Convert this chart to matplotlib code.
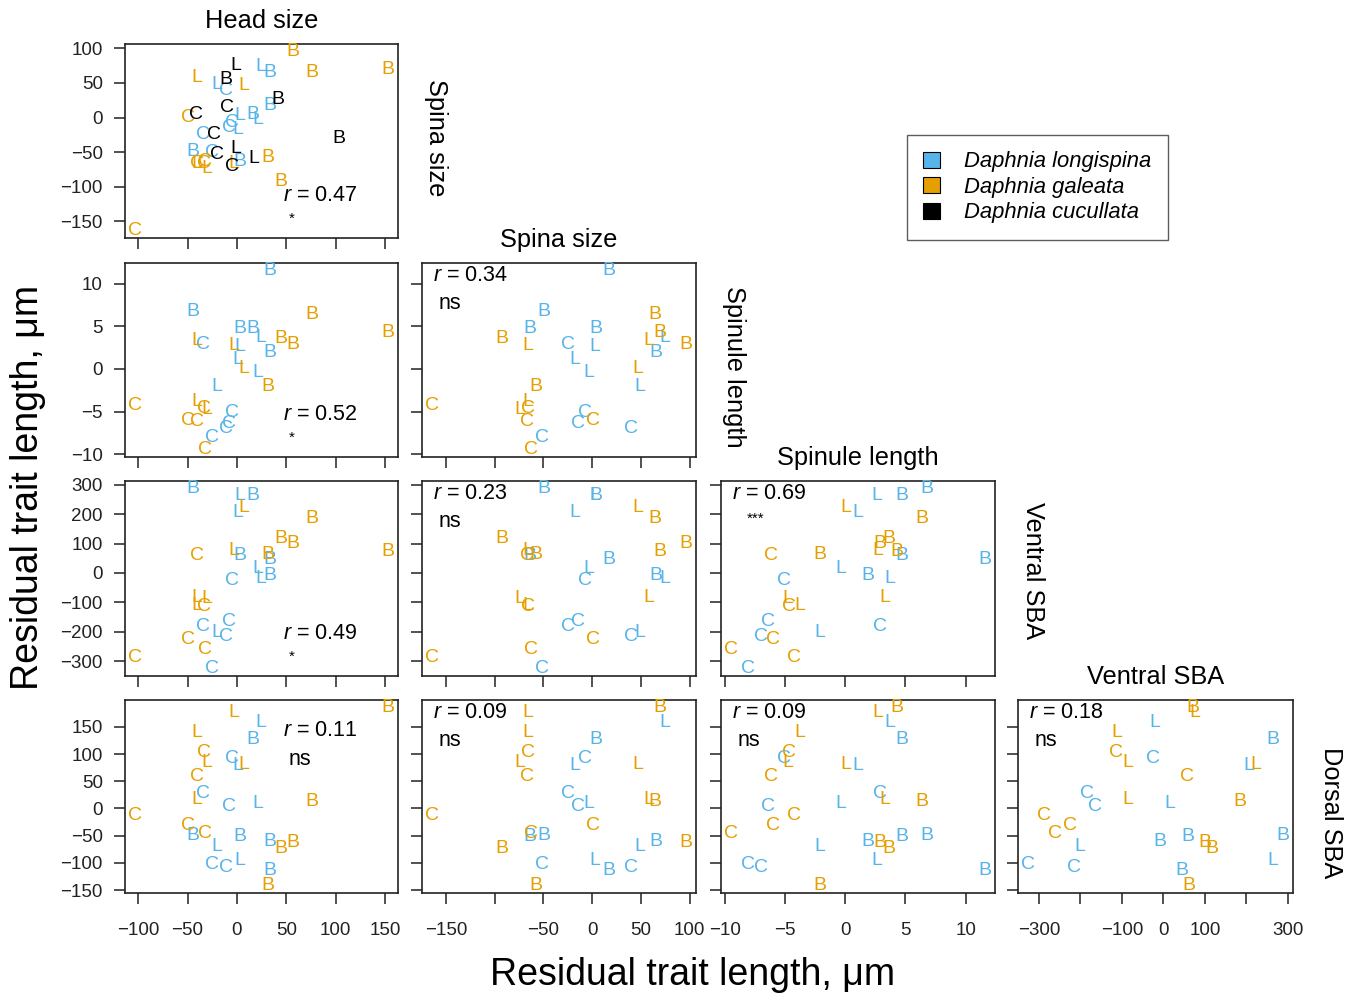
import numpy as np
import matplotlib
matplotlib.use('Agg')
import matplotlib.pyplot as plt
from matplotlib.patches import Patch

plt.rcParams['font.family'] = ['Liberation Sans', 'DejaVu Sans']
plt.rcParams['mathtext.fontset'] = 'custom'
plt.rcParams['mathtext.it'] = 'Liberation Sans:italic'
plt.rcParams['mathtext.rm'] = 'Liberation Sans'

# trait names (diagonal titles)
traits = ["Head size", "Spina size", "Spinule length", "Ventral SBA", "Dorsal SBA"]

species_names = ["Daphnia longispina", "Daphnia galeata", "Daphnia cucullata"]
species_colors = ["#56B4E9", "#E69F00", "#000000"]

# one entry per individual: 15 longispina, 15 galeata, 11 cucullata
species = [0] * 15 + [1] * 15 + [2] * 11
lake = ["B", "B", "B", "B", "L", "C", "L", "B", "L", "L", "L", "C", "C", "C", "C",
        "B", "B", "B", "B", "B", "L", "L", "L", "L", "C", "C", "C", "C", "C", "L",
        "L", "B", "C", "B", "C", "C", "L", "C", "L", "C", "B"]
head = [33, -44.5, 2.7, 16, 23.8, -34, 3.4, 33.4, 0.7, 20.7, -20.8, -5, -8.2, -11.3, -25,
        76, 152.7, 44.5, 57, 31, -40.5, -3.5, 7, -41, -103, -33, -50, -40, -32, -30,
        -0.7, -10.8, -10, 41, -41, -23.5, -0.7, -20, 16.7, -5, 103]
spina = [17, -49.5, -63.5, 4.2, 74.5, -24.5, 3.2, 65, -18, -3.5, 48.5, -7.8, -15, 39.5, -51,
         64.5, 69, -92.5, 96, -58, 58, -66, 47, -66, -164, -66, 0.5, -66.5, -63, -74,
         76, 55, 14, 26, 5, -24, -45, -54, -59, -71, -31]
spinule = [11.6, 6.8, 4.7, 4.7, 3.7, 2.85, 2.6, 1.9, 1.07, -0.4, -2.1, -5.1, -6.4, -7.0, -8.1,
           6.4, 4.3, 3.6, 2.9, -2.1, 3.3, 2.7, 0.05, -3.8, -4.3, -4.7, -6.0, -6.2, -9.5, -4.8] + [np.nan] * 11
ventral = [44, 288, 59, 264, -20, -183, 263, -8, 207, 15, -201, -26, -166, -215, -326,
           184, 72, 117, 99, 62, -85, 75, 222, -112, -289, -115, -225, 58, -262, -86] + [np.nan] * 11
dorsal = [-113, -50, -52, 127, 158, 27, -96, -60, 79, 9, -69, 91, 4, -108, -102,
          13, 186, -74, -63, -142, 17, 176, 80, 139, -13, 103, -32, 58, -45, 84] + [np.nan] * 11

# correlation labels per panel (row, col)
r_text = {(0, 0): ("0.47", "*"), (1, 0): ("0.52", "*"), (2, 0): ("0.49", "*"),
          (3, 0): ("0.11", "ns"), (1, 1): ("0.34", "ns"), (2, 1): ("0.23", "ns"),
          (3, 1): ("0.09", "ns"), (2, 2): ("0.69", "***"), (3, 2): ("0.09", "ns"),
          (3, 3): ("0.18", "ns")}

# axis ticks: rows use traits 1..4 on y, columns use traits 0..3 on x
y_ticks = [[-150, -100, -50, 0, 50, 100], [-10, -5, 0, 5, 10],
           [-300, -200, -100, 0, 100, 200, 300], [-150, -100, -50, 0, 50, 100, 150]]
x_ticks = [[-100, -50, 0, 50, 100, 150], [-150, -100, -50, 0, 50, 100],
           [-10, -5, 0, 5, 10], [-300, -200, -100, 0, 100, 200, 300]]
x_ticklabels = [["-100", "-50", "0", "50", "100", "150"],
                ["-150", "", "-50", "0", "50", "100"],
                ["-10", "-5", "0", "5", "10"],
                ["-300", "", "-100", "0", "100", "", "300"]]

values = [np.array(head, float), np.array(spina, float), np.array(spinule, float),
          np.array(ventral, float), np.array(dorsal, float)]
species = np.array(species)


def limits(v):
    lo, hi = np.nanmin(v), np.nanmax(v)
    pad = 0.04 * (hi - lo)
    return lo - pad, hi + pad


def minus(s):
    return s.replace("-", "\u2212")


W, H = 1352, 997
fig = plt.figure(figsize=(W / 100, H / 100), dpi=100)

col_left = [125, 422, 721, 1018]
col_right = [398, 696, 995, 1293]
row_top = [44, 263, 481, 700]
row_bottom = [238, 457, 676, 893]
side_label_y = [138, 367, 571, 813]

for row in range(4):
    for col in range(row + 1):
        l, r = col_left[col], col_right[col]
        t, b = row_top[row], row_bottom[row]
        ax = fig.add_axes([l / W, 1 - b / H, (r - l) / W, (b - t) / H])
        xv = values[col]
        yv = values[row + 1]
        for i in range(len(lake)):
            if np.isnan(xv[i]) or np.isnan(yv[i]):
                continue
            ax.text(xv[i], yv[i], lake[i], color=species_colors[species[i]],
                    ha='center', va='center', fontsize=14)
        ax.set_xlim(*limits(xv))
        ax.set_ylim(*limits(yv))
        ax.set_xticks(x_ticks[col])
        ax.set_yticks(y_ticks[row])
        if row == 3:
            ax.set_xticklabels([minus(s) for s in x_ticklabels[col]])
        else:
            ax.set_xticklabels([])
        if col == 0:
            ax.set_yticklabels([minus(str(v)) for v in y_ticks[row]])
        else:
            ax.set_yticklabels([])
        ax.tick_params(direction='out', length=8, width=1.1, labelsize=13.5,
                       colors='#222222')
        ax.tick_params(axis='x', pad=13)
        ax.tick_params(axis='y', pad=8)
        for s in ax.spines.values():
            s.set_linewidth(1.2)
            s.set_color('#222222')

        rv, sig = r_text[(row, col)]
        if col == 0 and row < 3:
            ax.text(0.58, 0.22, "$r$ = " + rv, transform=ax.transAxes,
                    ha='left', va='center', fontsize=15.5)
            ax.text(0.612, 0.1, sig, transform=ax.transAxes,
                    ha='center', va='center', fontsize=11)
        elif col == 0:
            ax.text(0.58, 0.84, "$r$ = " + rv, transform=ax.transAxes,
                    ha='left', va='center', fontsize=15.5)
            ax.text(0.64, 0.69, sig, transform=ax.transAxes,
                    ha='center', va='center', fontsize=15.5)
        else:
            ax.text(0.04, 0.935, "$r$ = " + rv, transform=ax.transAxes,
                    ha='left', va='center', fontsize=15.5)
            if sig == "***":
                ax.text(0.125, 0.805, sig, transform=ax.transAxes,
                        ha='center', va='center', fontsize=11)
            else:
                ax.text(0.06, 0.79, sig, transform=ax.transAxes,
                        ha='left', va='center', fontsize=15.5)

        if row == col:
            fig.text((l + r) / 2 / W, 1 - (t - 23) / H, traits[col],
                     ha='center', va='center', fontsize=18.3)
            fig.text((r + 38) / W, 1 - side_label_y[row] / H, traits[row + 1],
                     rotation=270, ha='center', va='center', fontsize=18.3)

# legend
handles = [Patch(facecolor=c, edgecolor='black', linewidth=0.8) for c in species_colors]
fig.legend(handles, species_names, loc='upper left',
           bbox_to_anchor=(907 / W, 1 - 135 / H), prop={'style': 'italic', 'size': 15.8},
           frameon=True, fancybox=False, edgecolor='#333333', handlelength=0.75,
           handleheight=0.75, handletextpad=1.1, borderpad=0.75, labelspacing=0.2,
           borderaxespad=0)

fig.text(693 / W, 1 - 975 / H, "Residual trait length, μm", ha='center',
         va='center', fontsize=27)
fig.text(28 / W, 1 - 487 / H, "Residual trait length, μm", ha='center',
         va='center', rotation=90, fontsize=27)

fig.savefig("out.png", dpi=100)
